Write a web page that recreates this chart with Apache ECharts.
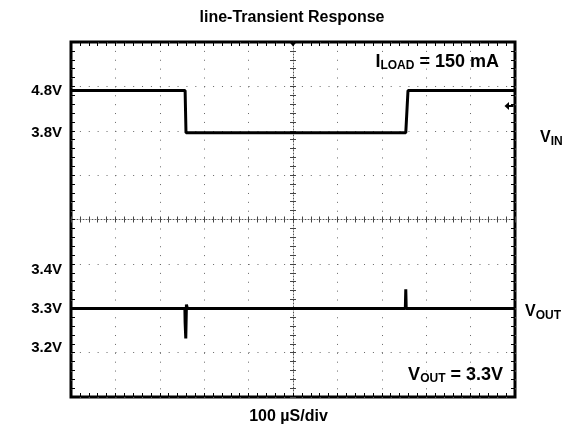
<!DOCTYPE html>
<html>
<head>
<meta charset="utf-8">
<title>line-Transient Response</title>
<script src="https://cdn.jsdelivr.net/npm/echarts@6/dist/echarts.min.js"></script>
<style>
    html, body { margin: 0; padding: 0; background: #fff; }
    #chart { width: 565px; height: 430px; }
</style>
</head>
<body>
<div id="chart"></div>
<script>
// time axis in µs (100 µS/div, 10 div)
var vinTime = [0, 257, 259, 754, 759, 1000];
var vinVolts = [4.8, 4.8, 3.8, 3.8, 4.8, 4.8];
var voutTime = [0, 256.5, 257, 258.5, 260, 262, 753, 754, 755, 1000];
var voutVolts = [3.3, 3.3, 3.265, 3.223, 3.31, 3.3, 3.3, 3.349, 3.3, 3.3];
var vinTicks = [3.8, 4.8];
var voutTicks = [3.2, 3.3, 3.4];
var trigTime = 500;
var trigLevel = 4.43;

var FONT = '"Liberation Sans", Arial, Helvetica, sans-serif';
var dots = [1, 7.88];

function pairs(xs, ys) {
    var out = [];
    for (var i = 0; i < xs.length; i++) out.push([xs[i], ys[i]]);
    return out;
}

// border / grid axes
function xBorder(pos, grid) {
    return {
        type: 'value', min: 0, max: 1000, interval: 100, position: pos,
        axisLine: {show: false, onZero: false},
        axisTick: {show: true, inside: true, length: 4, lineStyle: {color: '#000'}},
        minorTick: {show: true, splitNumber: 5, length: 4, lineStyle: {color: '#000'}},
        axisLabel: {show: false},
        splitLine: {show: grid, lineStyle: {color: '#666', type: dots}}
    };
}
function yBorder(pos, grid) {
    return {
        type: 'value', min: -4, max: 4, interval: 1, position: pos,
        axisLine: {show: false, onZero: false},
        axisTick: {show: true, inside: true, length: 4, lineStyle: {color: '#000'}},
        minorTick: {show: true, splitNumber: 5, length: 4, lineStyle: {color: '#000'}},
        axisLabel: {show: false},
        splitLine: {show: grid, lineStyle: {color: '#666', type: dots}}
    };
}
// centre cross lines, ticks on both sides
function centre(a, offset, inside) {
    a.offset = offset;
    a.axisLine = {show: inside, onZero: false, lineStyle: {color: '#555', type: [1, 2], width: 1}};
    a.axisTick.inside = inside;
    a.axisTick.length = 3;
    a.minorTick.length = 3;
    a.axisTick.lineStyle.color = '#444';
    a.minorTick.lineStyle.color = '#444';
    return a;
}
function voltAxis(min, max, ticks) {
    return {
        type: 'value', min: min, max: max, position: 'left',
        axisLine: {show: false, onZero: false},
        axisTick: {show: false},
        splitLine: {show: false},
        axisLabel: {
            show: true, customValues: ticks, margin: 9,
            formatter: function (v) { return v + 'V'; },
            fontFamily: FONT, fontWeight: 'bold', fontSize: 15, color: '#000'
        }
    };
}

var mainX = xBorder('bottom', true);
mainX.name = '100 µS/div';
mainX.nameLocation = 'middle';
mainX.nameGap = 12;
mainX.nameTextStyle = {fontFamily: FONT, fontWeight: 'bold', fontSize: 16, color: '#000', padding: [0, 9, 0, 0]};

var big = {fontFamily: FONT, fontWeight: 'bold', fontSize: 18, lineHeight: 20, color: '#000'};
var sub = {fontFamily: FONT, fontWeight: 'bold', fontSize: 12, lineHeight: 12, color: '#000', verticalAlign: 'bottom'};
var side = {fontFamily: FONT, fontWeight: 'bold', fontSize: 16, lineHeight: 20, color: '#000'};

var myChart = echarts.init(document.getElementById('chart'));
var option = {
    animation: false,
    backgroundColor: '#fff',
    title: [
        {text: 'line-Transient Response', left: 292, top: 18, textAlign: 'center', textVerticalAlign: 'middle', padding: 0,
            textStyle: {fontFamily: FONT, fontWeight: 'bold', fontSize: 16, color: '#000'}},
        {text: '{a|I}{b|LOAD}{a| = 150 mA}', left: 499, top: 62, textAlign: 'right', textVerticalAlign: 'middle', padding: 0,
            textStyle: {rich: {a: big, b: sub}}},
        {text: '{a|V}{b|OUT}{a| = 3.3V}', left: 503, top: 375, textAlign: 'right', textVerticalAlign: 'middle', padding: 0,
            textStyle: {rich: {a: big, b: sub}}},
        {text: '{a|V}{b|IN}', left: 540, top: 138, textAlign: 'left', textVerticalAlign: 'middle', padding: 0,
            textStyle: {rich: {a: side, b: sub}}},
        {text: '{a|V}{b|OUT}', left: 525, top: 312, textAlign: 'left', textVerticalAlign: 'middle', padding: 0,
            textStyle: {rich: {a: side, b: sub}}}
    ],
    grid: {
        left: 71, top: 42, width: 444, height: 355,
        show: true, borderColor: '#000', borderWidth: 3, backgroundColor: '#fff',
        outerBoundsMode: 'none'
    },
    xAxis: [
        mainX, xBorder('top', false),
        centre(xBorder('bottom', false), -177.5, true),
        centre(xBorder('bottom', false), -177.5, false)
    ],
    yAxis: [
        yBorder('left', true), yBorder('right', false),
        centre(yBorder('left', false), -222, true),
        centre(yBorder('left', false), -222, false),
        voltAxis(-2.463, 5.949, vinTicks),
        voltAxis(3.073, 3.983, voutTicks)
    ],
    series: [
        {
            name: 'VIN', type: 'line', xAxisIndex: 0, yAxisIndex: 4,
            data: pairs(vinTime, vinVolts), symbol: 'none',
            lineStyle: {color: '#000', width: 3},
            markPoint: {
                silent: true, label: {show: false},
                data: [
                    {coord: [trigTime, 5.949], symbol: 'triangle', symbolRotate: 180, symbolSize: [8, 5], symbolOffset: [0, 2],
                        itemStyle: {color: '#000'}},
                    {coord: [1000, trigLevel], symbol: 'path://M0,4 L5,0 L5,3 L10,3 L10,5 L5,5 L5,8 Z', symbolSize: [9, 8],
                        symbolOffset: [-6, 0], itemStyle: {color: '#000'}}
                ]
            }
        },
        {
            name: 'VOUT', type: 'line', xAxisIndex: 0, yAxisIndex: 5,
            data: pairs(voutTime, voutVolts), symbol: 'none',
            lineStyle: {color: '#000', width: 3}
        }
    ]
};
myChart.setOption(option);
</script>
</body>
</html>
